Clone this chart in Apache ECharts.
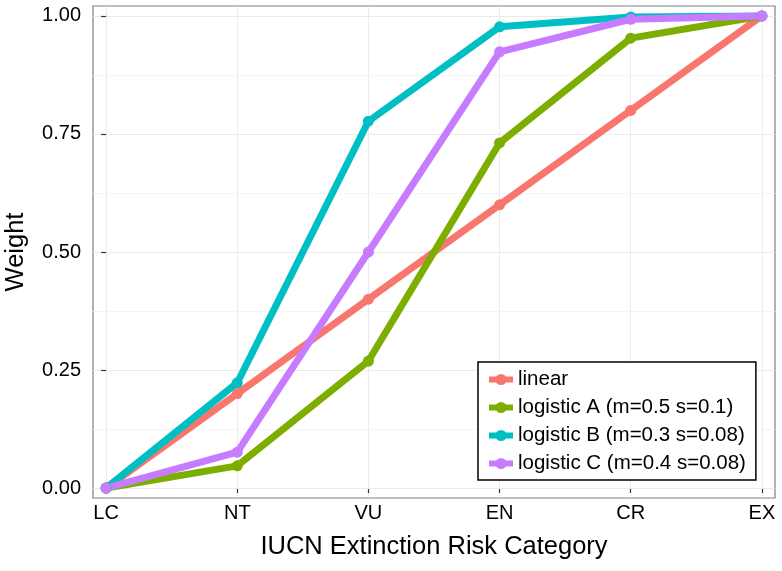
<!DOCTYPE html>
<html lang="en" style="height: 100%">
<head>
    <meta charset="UTF-8">
    <title>IUCN weights</title>
    <script src="https://cdn.jsdelivr.net/npm/echarts@6/dist/echarts.min.js"></script>
</head>
<body style="height: 100%; margin: 0; background: #fff">
<div id="container" style="width: 782px; height: 571px"></div>

<script type="text/javascript">
    // categories along x
    var categories = ['LC', 'NT', 'VU', 'EN', 'CR', 'EX'];
    var yTicks = [0, 0.25, 0.5, 0.75, 1];
    var yMinor = [0.125, 0.375, 0.625, 0.875];

    var seriesNames = ['linear', 'logistic A (m=0.5 s=0.1)', 'logistic B (m=0.3 s=0.08)', 'logistic C (m=0.4 s=0.08)'];
    var linear = [0, 0.2, 0.4, 0.6, 0.8, 1.0];
    var logisticA = [0, 0.047, 0.269, 0.731, 0.953, 1.0];
    var logisticB = [0, 0.223, 0.777, 0.977, 0.998, 1.0];
    var logisticC = [0, 0.076, 0.5, 0.924, 0.993, 1.0];
    var colors = ['#F8766D', '#7CAE00', '#00BFC4', '#C77CFF'];

    var font = '"Liberation Sans", Arial, Helvetica, sans-serif';

    function toPairs(vals) {
        return vals.map(function (v, i) { return [i, v]; });
    }

    var dom = document.getElementById('container');
    var myChart = echarts.init(dom, null, {renderer: 'canvas'});

    var series = [linear, logisticA, logisticB, logisticC].map(function (vals, k) {
        return {
            name: seriesNames[k],
            type: 'line',
            data: toPairs(vals),
            xAxisIndex: 0,
            yAxisIndex: 0,
            clip: false,
            symbol: 'circle',
            symbolSize: 11,
            lineStyle: {width: 7, color: colors[k]},
            itemStyle: {color: colors[k]},
            emphasis: {disabled: true},
            animation: false
        };
    });

    var option = {
        backgroundColor: '#fff',
        textStyle: {fontFamily: font},
        grid: {
            left: 93, right: 7, top: 6, bottom: 73,
            outerBoundsMode: 'none',
            containLabel: false,
            show: true, borderColor: '#7f7f7f', borderWidth: 1.2, backgroundColor: 'transparent'
        },
        legend: {
            data: seriesNames,
            orient: 'vertical',
            left: 478, top: 362,
            padding: [7, 10, 6, 8],
            borderColor: '#000', borderWidth: 1.5,
            backgroundColor: '#fff',
            itemWidth: 24, itemHeight: 14, itemGap: 7,
            lineStyle: {width: 6},
            textStyle: {fontFamily: font, fontSize: 20.5, color: '#000', lineHeight: 21},
            selectedMode: false
        },
        xAxis: [{
            type: 'value',
            min: -0.1, max: 5.1,
            name: 'IUCN Extinction Risk Category',
            nameLocation: 'middle', nameGap: 36,
            nameTextStyle: {fontFamily: font, fontSize: 25.5, color: '#000'},
            axisLine: {show: false},
            axisTick: {show: true, length: 5, lineStyle: {color: '#333', width: 1.2}, customValues: [0, 1, 2, 3, 4, 5]},
            axisLabel: {
                fontFamily: font, fontSize: 20, color: '#000', margin: 5,
                customValues: [0, 1, 2, 3, 4, 5],
                formatter: function (v) { return categories[Math.round(v)]; }
            },
            splitLine: {show: true, lineStyle: {color: '#ebebeb', width: 1}}
        }],
        yAxis: [{
            type: 'value',
            min: -0.0211, max: 1.0211,
            name: 'Weight',
            nameLocation: 'middle', nameGap: 64,
            nameTextStyle: {fontFamily: font, fontSize: 25.5, color: '#000'},
            axisLine: {show: false},
            axisTick: {show: true, length: 5, lineStyle: {color: '#333', width: 1.2}, customValues: yTicks},
            axisLabel: {
                fontFamily: font, fontSize: 20, color: '#000', margin: 12,
                customValues: yTicks,
                formatter: function (v) { return v.toFixed(2); }
            },
            splitLine: {show: true, lineStyle: {color: '#ebebeb', width: 1}},
            z: 1
        }, {
            type: 'value',
            min: -0.0211, max: 1.0211,
            position: 'left',
            axisLine: {show: false},
            axisTick: {show: false, customValues: yMinor},
            axisLabel: {show: false, customValues: yMinor},
            splitLine: {show: true, lineStyle: {color: '#f5f5f5', width: 1}},
            z: 0
        }],
        series: series
    };
    myChart.setOption(option, true);
</script>
</body>
</html>
